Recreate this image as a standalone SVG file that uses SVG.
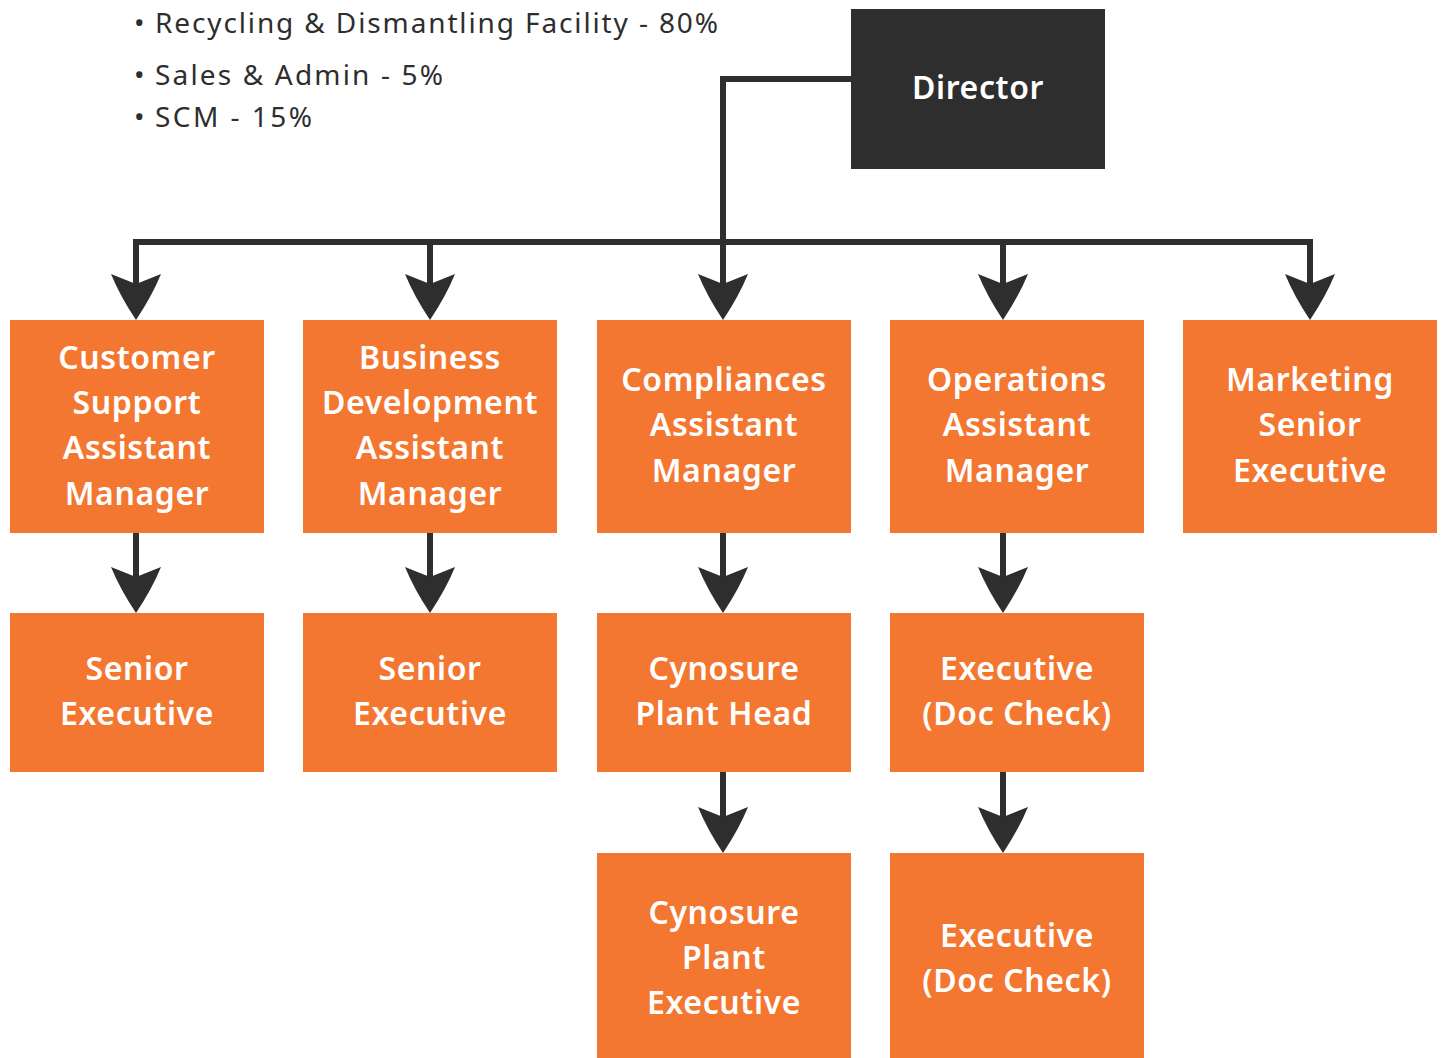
<svg xmlns="http://www.w3.org/2000/svg" width="1443" height="1058" viewBox="0 0 1443 1058">
  <style>
    .box { fill: #f47731; }
    .dir { fill: #2e2e2e; }
    .lbl { font-family: "Noto Sans", "Liberation Sans", sans-serif; font-size: 32px; font-weight: 600; fill: #ffffff; text-anchor: middle; letter-spacing: 0.6px; }
    .note { font-family: "Noto Sans", "Liberation Sans", sans-serif; font-size: 28px; fill: #2e2e2e; }
    .wire { fill: none; stroke: #2e2e2e; stroke-width: 6; }
  </style>
  <defs>
    <marker id="ah" markerUnits="userSpaceOnUse" orient="auto" markerWidth="52" markerHeight="54" viewBox="-48 -27 52 54" refX="-36" refY="0">
      <path d="M0,0 Q-24,-16 -46,-25 L-36,0 L-46,25 Q-24,16 0,0 Z" fill="#2e2e2e"/>
    </marker>
  </defs>

  <g id="notes">
    <text class="note" y="33"><tspan x="134">•</tspan><tspan x="155" textLength="563">Recycling &amp; Dismantling Facility - 80%</tspan></text>
    <text class="note" y="85"><tspan x="134">•</tspan><tspan x="155" textLength="288">Sales &amp; Admin - 5%</tspan></text>
    <text class="note" y="127"><tspan x="134">•</tspan><tspan x="155" textLength="157">SCM - 15%</tspan></text>
  </g>

  <g id="connectors">
    <path class="wire" d="M851,79 H723 V284" marker-end="url(#ah)"/>
    <path class="wire" d="M133,242 H1313"/>
    <path class="wire" d="M136,239 V284" marker-end="url(#ah)"/>
    <path class="wire" d="M430,242 V284" marker-end="url(#ah)"/>
    <path class="wire" d="M1003,242 V284" marker-end="url(#ah)"/>
    <path class="wire" d="M1310,239 V284" marker-end="url(#ah)"/>
    <path class="wire" d="M136,533 V577" marker-end="url(#ah)"/>
    <path class="wire" d="M430,533 V577" marker-end="url(#ah)"/>
    <path class="wire" d="M723,533 V577" marker-end="url(#ah)"/>
    <path class="wire" d="M1003,533 V577" marker-end="url(#ah)"/>
    <path class="wire" d="M723,772 V817" marker-end="url(#ah)"/>
    <path class="wire" d="M1003,772 V817" marker-end="url(#ah)"/>
  </g>

  <g id="director">
    <rect class="dir" x="851" y="9" width="254" height="160"/>
    <text class="lbl" x="978" y="99">Director</text>
  </g>

  <g id="customer-support">
    <rect class="box" x="10" y="320" width="254" height="213"/>
    <text class="lbl" x="137" y="369">Customer</text>
    <text class="lbl" x="137" y="414">Support</text>
    <text class="lbl" x="137" y="459">Assistant</text>
    <text class="lbl" x="137" y="505">Manager</text>
  </g>
  <g id="business-development">
    <rect class="box" x="303" y="320" width="254" height="213"/>
    <text class="lbl" x="430" y="369">Business</text>
    <text class="lbl" x="430" y="414">Development</text>
    <text class="lbl" x="430" y="459">Assistant</text>
    <text class="lbl" x="430" y="505">Manager</text>
  </g>
  <g id="compliances">
    <rect class="box" x="597" y="320" width="254" height="213"/>
    <text class="lbl" x="724" y="391">Compliances</text>
    <text class="lbl" x="724" y="436">Assistant</text>
    <text class="lbl" x="724" y="482">Manager</text>
  </g>
  <g id="operations">
    <rect class="box" x="890" y="320" width="254" height="213"/>
    <text class="lbl" x="1017" y="391">Operations</text>
    <text class="lbl" x="1017" y="436">Assistant</text>
    <text class="lbl" x="1017" y="482">Manager</text>
  </g>
  <g id="marketing">
    <rect class="box" x="1183" y="320" width="254" height="213"/>
    <text class="lbl" x="1310" y="391">Marketing</text>
    <text class="lbl" x="1310" y="436">Senior</text>
    <text class="lbl" x="1310" y="482">Executive</text>
  </g>

  <g id="cs-senior-executive">
    <rect class="box" x="10" y="613" width="254" height="159"/>
    <text class="lbl" x="137" y="680">Senior</text>
    <text class="lbl" x="137" y="725">Executive</text>
  </g>
  <g id="bd-senior-executive">
    <rect class="box" x="303" y="613" width="254" height="159"/>
    <text class="lbl" x="430" y="680">Senior</text>
    <text class="lbl" x="430" y="725">Executive</text>
  </g>
  <g id="cynosure-plant-head">
    <rect class="box" x="597" y="613" width="254" height="159"/>
    <text class="lbl" x="724" y="680">Cynosure</text>
    <text class="lbl" x="724" y="725">Plant Head</text>
  </g>
  <g id="executive-doc-check-1">
    <rect class="box" x="890" y="613" width="254" height="159"/>
    <text class="lbl" x="1017" y="680">Executive</text>
    <text class="lbl" x="1017" y="725">(Doc Check)</text>
  </g>

  <g id="cynosure-plant-executive">
    <rect class="box" x="597" y="853" width="254" height="210"/>
    <text class="lbl" x="724" y="924">Cynosure</text>
    <text class="lbl" x="724" y="969">Plant</text>
    <text class="lbl" x="724" y="1014">Executive</text>
  </g>
  <g id="executive-doc-check-2">
    <rect class="box" x="890" y="853" width="254" height="210"/>
    <text class="lbl" x="1017" y="947">Executive</text>
    <text class="lbl" x="1017" y="992">(Doc Check)</text>
  </g>
</svg>
